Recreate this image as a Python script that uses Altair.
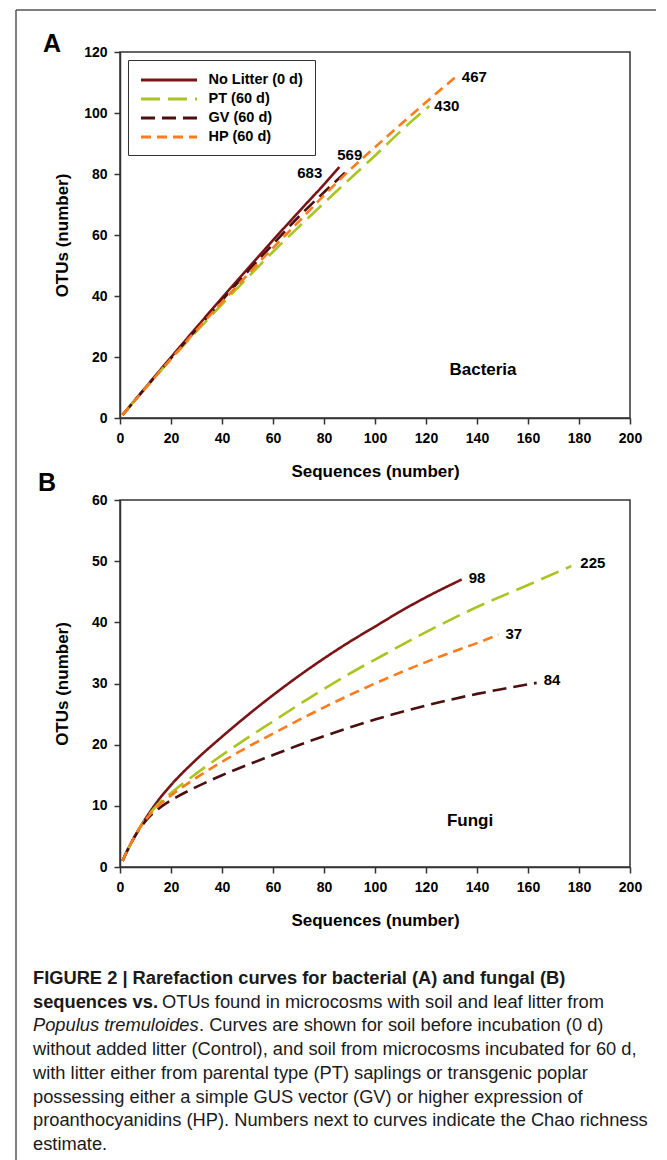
import altair as alt
import pandas as pd

FONT = "Liberation Sans"

TREATMENTS = ["No Litter (0 d)", "PT (60 d)", "GV (60 d)", "HP (60 d)"]
COLORS = ["#7b1416", "#a9c520", "#4c0f10", "#ff7b1c"]
DASHES = [[1, 0], [19, 8], [14, 7], [10, 6]]

X_TICKS = [0, 20, 40, 60, 80, 100, 120, 140, 160, 180, 200]
YA_TICKS = [0, 20, 40, 60, 80, 100, 120]
YB_TICKS = [0, 10, 20, 30, 40, 50, 60]

# ---- Panel A: Bacteria ----
A_NL_X = [1, 10, 20, 30, 40, 50, 60, 70, 80, 86]
A_NL_Y = [1, 10, 19.9, 29.7, 39.4, 48.9, 58.3, 67.5, 76.6, 82.3]
A_PT_X = [1, 10, 20, 30, 40, 50, 60, 70, 80, 90, 100, 110, 121.3]
A_PT_Y = [1, 9.8, 19.3, 28.4, 37.3, 46.0, 54.5, 62.6, 70.5, 78.3, 86.0, 94.0, 102.3]
A_GV_X = [1, 10, 20, 30, 40, 50, 60, 70, 80, 89.3]
A_GV_Y = [1, 9.9, 19.6, 29.1, 38.6, 47.9, 57.0, 65.9, 74.0, 81.2]
A_HP_X = [1, 10, 20, 30, 40, 50, 60, 70, 80, 90, 100, 110, 120, 131.3]
A_HP_Y = [1, 9.8, 19.4, 28.8, 38.0, 47.0, 55.8, 64.3, 73.0, 81.2, 88.8, 96.2, 103.5, 111.6]
CHAO_A = ["683", "430", "569", "467"]

# ---- Panel B: Fungi ----
B_NL_X = [1, 3, 5, 7, 10, 15, 20, 30, 40, 50, 60, 70, 80, 90, 100, 110, 120, 134]
B_NL_Y = [1, 2.8, 4.4, 5.9, 7.9, 10.9, 13.4, 17.6, 21.3, 24.8, 28.1, 31.2, 34.1, 36.8, 39.3, 41.8, 44.1, 47.0]
B_PT_X = [1, 3, 5, 7, 10, 15, 20, 30, 40, 50, 60, 70, 80, 90, 100, 120, 140, 160, 177]
B_PT_Y = [1, 2.8, 4.4, 5.9, 7.8, 10.3, 12.1, 15.3, 18.3, 21.1, 23.8, 26.5, 29.1, 31.6, 33.9, 38.4, 42.5, 46.1, 49.2]
B_GV_X = [1, 3, 5, 7, 10, 15, 20, 30, 40, 50, 60, 70, 80, 90, 100, 110, 120, 130, 140, 150, 163.4]
B_GV_Y = [1, 2.8, 4.4, 5.8, 7.5, 9.5, 10.9, 13.1, 15.0, 16.7, 18.3, 19.9, 21.4, 22.8, 24.1, 25.3, 26.4, 27.4, 28.3, 29.1, 30.1]
B_HP_X = [1, 3, 5, 7, 10, 15, 20, 30, 40, 50, 60, 70, 80, 90, 100, 110, 120, 130, 140, 148.4]
B_HP_Y = [1, 2.8, 4.4, 5.9, 7.7, 10.0, 11.7, 14.6, 17.2, 19.6, 21.8, 24.0, 26.1, 28.1, 30.0, 31.8, 33.5, 35.1, 36.6, 38.0]
CHAO_B = ["98", "225", "84", "37"]

CAPTION_BOLD_1 = "FIGURE 2 | Rarefaction curves for bacterial (A) and fungal (B)"
CAPTION_BOLD_2 = "sequences vs."
CAPTION_REG_2 = "OTUs found in microcosms with soil and leaf litter from"
CAPTION_ITAL_3 = "Populus tremuloides"
CAPTION_REG_3 = ". Curves are shown for soil before incubation (0 d)"
CAPTION_REST = [
    "without added litter (Control), and soil from microcosms incubated for 60 d,",
    "with litter either from parental type (PT) saplings or transgenic poplar",
    "possessing either a simple GUS vector (GV) or higher expression of",
    "proanthocyanidins (HP). Numbers next to curves indicate the Chao richness",
    "estimate.",
]


def series_df(xs_list, ys_list):
    rows = []
    for name, xs, ys in zip(TREATMENTS, xs_list, ys_list):
        for a, b in zip(xs, ys):
            rows.append({"treatment": name, "seq": a, "otu": b})
    return pd.DataFrame(rows)


def label_df(xs_list, ys_list, chao):
    return pd.DataFrame({
        "treatment": TREATMENTS,
        "seq": [xs[-1] for xs in xs_list],
        "otu": [ys[-1] for ys in ys_list],
        "chao": chao,
    })


# a horizontal stroke symbol 56 px long whose layout box is only 14 px tall
LEGEND = alt.Legend(
    title=None, orient="none", legendX=8, legendY=8, padding=11.5,
    strokeColor="#333", fillColor="white", symbolType="M-1,0H7",
    symbolSize=196, symbolStrokeWidth=3, labelFont=FONT, labelFontSize=14.5,
    labelFontWeight="bold", labelColor="black", labelOffset=52,
    rowPadding=4, labelLimit=0, symbolOpacity=1,
)


def axis(values, title, title_pad):
    return alt.Axis(
        values=values, title=title, grid=False, tickSize=6, labelPadding=7,
        labelFont=FONT, labelFontSize=14, labelFontWeight="bold",
        labelColor="black", labelFlush=False, labelOverlap=False,
        titleFont=FONT, titleFontSize=17, titleFontWeight="bold",
        titleColor="black", titlePadding=title_pad,
        domainColor="#333", domainWidth=1.5, tickColor="#333", tickWidth=1.5,
    )


def panel(xs_list, ys_list, chao, ymax, yticks, height, ytitle_pad,
          offsets, name, name_pos, letter, letter_pos, extra=None):
    df = series_df(xs_list, ys_list)
    xenc = alt.X("seq:Q", scale=alt.Scale(domain=[0, 200], nice=False),
                 axis=axis(X_TICKS, "Sequences (number)", 18))
    yenc = alt.Y("otu:Q", scale=alt.Scale(domain=[0, ymax], nice=False),
                 axis=axis(yticks, "OTUs (number)", ytitle_pad))
    lines = alt.Chart(df).mark_line(strokeWidth=2.6, interpolate="monotone").encode(
        x=xenc, y=yenc,
        color=alt.Color("treatment:N", sort=TREATMENTS,
                        scale=alt.Scale(domain=TREATMENTS, range=COLORS), legend=LEGEND),
        strokeDash=alt.StrokeDash("treatment:N", sort=TREATMENTS,
                                  scale=alt.Scale(domain=TREATMENTS, range=DASHES), legend=LEGEND),
    )
    ldf = label_df(xs_list, ys_list, chao)
    layers = [lines]
    for t, (align, dx, dy) in zip(TREATMENTS, offsets):
        layers.append(
            alt.Chart(ldf).transform_filter(alt.datum.treatment == t)
            .mark_text(font=FONT, fontSize=15, fontWeight="bold", color="black",
                       align=align, baseline="middle", dx=dx, dy=dy)
            .encode(x="seq:Q", y="otu:Q", text="chao:N")
        )
    txt = pd.DataFrame({"t": [name]})
    layers.append(
        alt.Chart(txt).mark_text(font=FONT, fontSize=17, fontWeight="bold",
                                 color="black", align="center", baseline="middle")
        .encode(text="t:N", x=alt.value(name_pos[0]), y=alt.value(name_pos[1]))
    )
    ltr = pd.DataFrame({"t": [letter]})
    layers.append(
        alt.Chart(ltr).mark_text(font=FONT, fontSize=25, fontWeight="bold",
                                 color="black", align="left", baseline="alphabetic")
        .encode(text="t:N", x=alt.value(letter_pos[0]), y=alt.value(letter_pos[1]))
    )
    if extra:
        layers.extend(extra)
    return alt.layer(*layers).properties(
        width=510, height=height,
        view=alt.ViewBackground(stroke="#333", strokeWidth=1.5),
    )


one = pd.DataFrame({"k": [0]})
frame = [
    alt.Chart(one).mark_rule(color="#555", strokeWidth=1.5).encode(
        x=alt.value(-104), y=alt.value(-42), y2=alt.value(1108)),
    alt.Chart(one).mark_rule(color="#555", strokeWidth=1.5).encode(
        x=alt.value(-104), x2=alt.value(536), y=alt.value(-42)),
]

panel_a = panel(
    [A_NL_X, A_PT_X, A_GV_X, A_HP_X], [A_NL_Y, A_PT_Y, A_GV_Y, A_HP_Y], CHAO_A,
    120, YA_TICKS, 366, 12,
    [("right", -17, 6), ("left", 5, 0), ("center", 2, -15), ("left", 7, -1)],
    "Bacteria", (363, 318), "A", (-77, 0), extra=frame,
)

panel_b = panel(
    [B_NL_X, B_PT_X, B_GV_X, B_HP_X], [B_NL_Y, B_PT_Y, B_GV_Y, B_HP_Y], CHAO_B,
    60, YB_TICKS, 367, 20,
    [("left", 7, -2), ("left", 9, -3), ("left", 7, -3), ("left", 7, -1)],
    "Fungi", (350, 321), "B", (-82, -9),
)

CAP_X = -87
CAP_Y0 = 35
CAP_DY = 23.7
CAP_SIZE = 18.3


def cap_text(text, x, line, weight="normal", style="normal"):
    return alt.Chart(pd.DataFrame({"t": [text]})).mark_text(
        font=FONT, fontSize=CAP_SIZE, fontWeight=weight, fontStyle=style,
        color="#1a1a1a", align="left", baseline="alphabetic",
    ).encode(text="t:N", x=alt.value(x), y=alt.value(CAP_Y0 + line * CAP_DY))


cap_layers = [
    cap_text(CAPTION_BOLD_1, CAP_X, 0, weight="bold"),
    cap_text(CAPTION_BOLD_2, CAP_X, 1, weight="bold"),
    cap_text(CAPTION_REG_2, 42, 1),
    cap_text(CAPTION_ITAL_3, CAP_X, 2, style="italic"),
    cap_text(CAPTION_REG_3, 79, 2),
]
for i, line in enumerate(CAPTION_REST):
    cap_layers.append(cap_text(line, CAP_X, 3 + i))

caption = alt.layer(*cap_layers).properties(
    width=510, height=190,
    view=alt.ViewBackground(stroke="transparent"),
)

chart = alt.vconcat(
    panel_a, panel_b, caption, spacing=82, bounds="flush",
    padding={"left": 6, "top": 0, "right": 0, "bottom": 0},
).configure(background="white")

chart.save("out.html", embed_options={"renderer": "svg", "actions": False})
